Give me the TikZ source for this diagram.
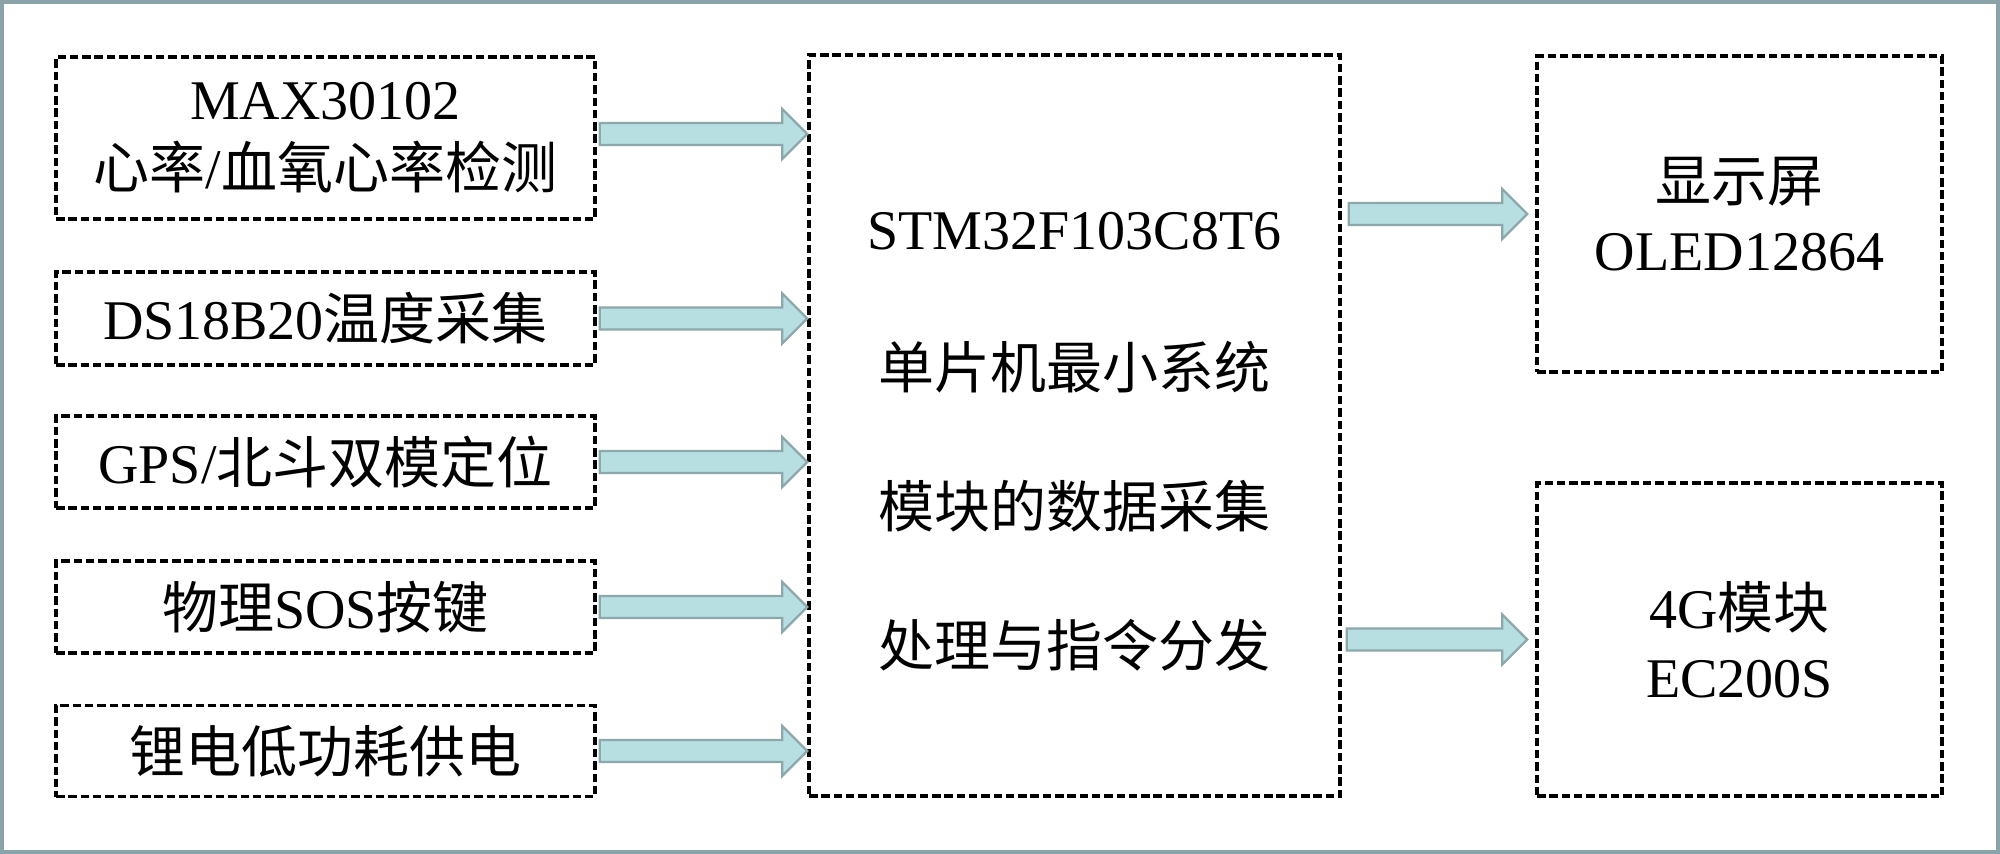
\documentclass[tikz,border=0pt]{standalone}
\usepackage{fontspec}
\setmainfont{Liberation Serif}
\newfontfamily\cjk{Noto Sans CJK SC}
\usetikzlibrary{calc}
\definecolor{framecol}{RGB}{138,163,168}
\definecolor{afill}{RGB}{183,222,225}
\definecolor{aline}{RGB}{140,168,170}
\tikzset{
  box/.style={draw=black, line width=1.75pt, dash pattern=on 4.25pt off 1.9pt, rectangle, inner sep=0pt, align=center, font=\fontsize{28pt}{34.5pt}\selectfont},
  plaintext/.style={inner sep=0pt, align=center, font=\fontsize{28pt}{69.5pt}\selectfont},
  blockarrow/.style={draw=aline, fill=afill, line width=1.2pt, line join=miter},
}
\newcommand\barrow[2]{\draw[blockarrow] let \p1=(#1), \p2=(#2) in
  (\x1,\y1+5.5pt) -- (\x2-12.5pt,\y1+5.5pt) -- (\x2-12.5pt,\y1+12.5pt) -- (\x2,\y1)
  -- (\x2-12.5pt,\y1-12.5pt) -- (\x2-12.5pt,\y1-5.5pt) -- (\x1,\y1-5.5pt) -- cycle;}
\begin{document}
\begin{tikzpicture}[x=0.5pt,y=-0.5pt]
\useasboundingbox (0,0) rectangle (2000,854);
\draw[framecol, line width=2pt] (2,2) rectangle (1998,852);
% left boxes
\node[box, minimum width=269.5pt, minimum height=81pt] (s1) at (325.5,138) {MAX30102\\{\cjk 心率}/{\cjk 血氧心率检测}};
\node[box, minimum width=269.5pt, minimum height=46.5pt] (s2) at (325.5,318.5) {DS18B20{\cjk 温度采集}};
\node[box, minimum width=269.5pt, minimum height=46pt] (s3) at (325.5,462) {GPS/{\cjk 北斗双模定位}};
\node[box, minimum width=269.5pt, minimum height=46pt] (s4) at (325.5,607) {{\cjk 物理}SOS{\cjk 按键}};
\node[box, minimum width=269.5pt, minimum height=45.5pt] (s5) at (325.5,751) {{\cjk 锂电低功耗供电}};
% MCU
\node[box, minimum width=265.5pt, minimum height=370.5pt] (mcu) at (1074.5,425.5) {};
\node[plaintext] (mcutext) at (1074.5,442) {STM32F103C8T6\\{\cjk 单片机最小系统}\\{\cjk 模块的数据采集}\\{\cjk 处理与指令分发}};
% right boxes
\node[box, minimum width=202.5pt, minimum height=158pt] (d1) at (1739.5,214) {{\cjk 显示屏}\\OLED12864};
\node[box, minimum width=202.5pt, minimum height=156.5pt] (d2) at (1739.5,639.5) {4G{\cjk 模块}\\EC200S};
% arrows
\barrow{$(s1.east)+(3,-4)$}{mcu.west}
\barrow{$(s2.east)+(3,0)$}{mcu.west}
\barrow{$(s3.east)+(3,0)$}{mcu.west}
\barrow{$(s4.east)+(3,0)$}{mcu.west}
\barrow{$(s5.east)+(3,0)$}{mcu.west}
\barrow{$(mcu.east |- d1.west)+(7,0)$}{$(d1.west)+(-8,0)$}
\barrow{$(mcu.east |- d2.west)+(5,0)$}{$(d2.west)+(-8,0)$}
\end{tikzpicture}
\end{document}
